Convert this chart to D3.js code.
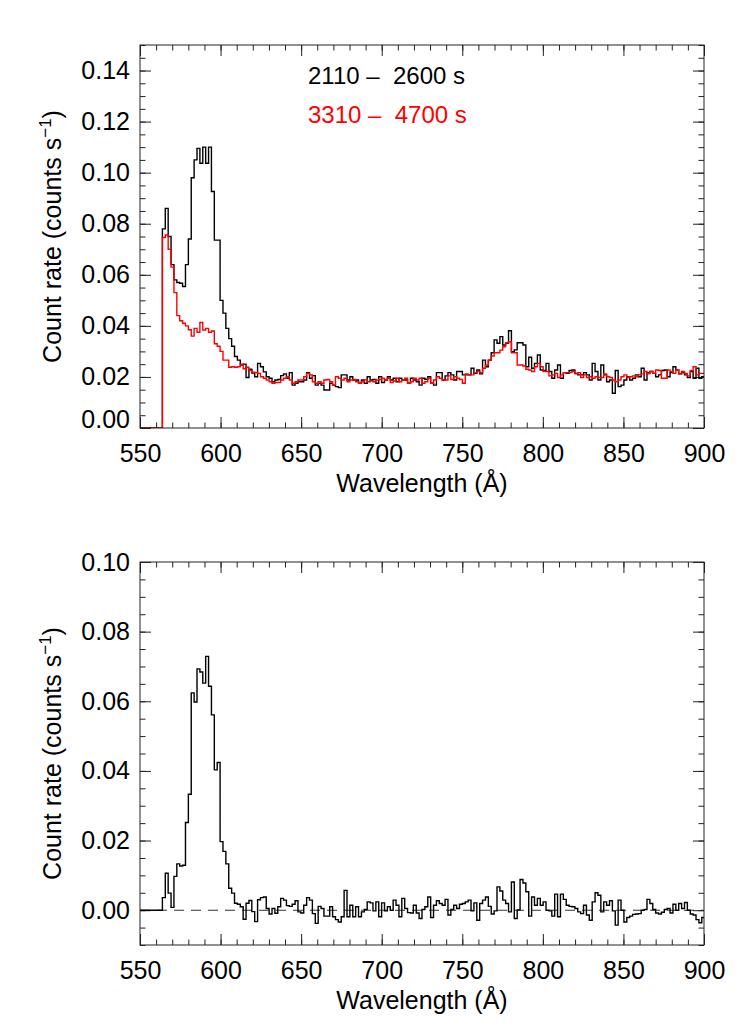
<!DOCTYPE html>
<html>
<head>
<meta charset="utf-8">
<script src="https://cdn.jsdelivr.net/npm/d3@7"></script>
<style>
  body { margin: 0; background: #fff; }
  svg { font-family: "Liberation Sans", Arial, Helvetica, sans-serif; }
</style>
</head>
<body>
<svg id="chart" width="747" height="1035"></svg>
<script>
// wavelength grid of the binned spectra
const waveMin = 550;
const waveMax = 900;
const binStart = 563.9;
const binWidth = 1.79;

const xTicks = [550, 600, 650, 700, 750, 800, 850, 900];
const topYTicks = [0, 0.02, 0.04, 0.06, 0.08, 0.10, 0.12, 0.14];
const bottomYTicks = [0, 0.02, 0.04, 0.06, 0.08, 0.10];

const legendLabels = ["2110 \u2013  2600 s", "3310 \u2013  4700 s"];
const legendColors = ["#000000", "#ff0000"];

// count rate, 2110 - 2600 s
const earlyRate = [
  0.078, 0.086, 0.075, 0.064, 0.058, 0.057, 0.0567, 0.0554, 0.064, 0.074,
  0.098, 0.105, 0.1095, 0.1037, 0.110, 0.1037, 0.110, 0.0926, 0.0736, 0.0736,
  0.050, 0.045, 0.039, 0.035, 0.032, 0.028, 0.0266, 0.0247, 0.025, 0.0198,
  0.023,
  0.0215, 0.0201, 0.0253, 0.024, 0.022, 0.0201, 0.0195, 0.0181, 0.0188, 0.019,
  0.0205, 0.0212, 0.0195, 0.0217, 0.0168, 0.0175, 0.0181, 0.0181, 0.0188, 0.0217,
  0.0195, 0.0205, 0.0168, 0.0175, 0.0168, 0.0149, 0.0149, 0.0175, 0.0168, 0.0162,
  0.0158, 0.0208, 0.0208, 0.0188, 0.0201, 0.0188, 0.0188, 0.0175, 0.0188, 0.0175,
  0.0201, 0.0188, 0.019, 0.0175, 0.0201, 0.0178, 0.0188, 0.0201, 0.0188, 0.0195,
  0.0181, 0.0195, 0.0188, 0.0188, 0.0175, 0.0195, 0.0188, 0.0181, 0.0168, 0.0195,
  0.0191, 0.0201, 0.0175, 0.0168, 0.0217, 0.0217,
  0.0188, 0.0204, 0.0217, 0.0208, 0.0188, 0.0221, 0.0221, 0.0208, 0.0208, 0.0208,
  0.0234, 0.0214, 0.0227, 0.0212, 0.0266, 0.024, 0.0266, 0.0295, 0.0345, 0.0332,
  0.0358, 0.0325, 0.0332, 0.0381, 0.0299, 0.0306, 0.0334, 0.0334, 0.0325, 0.024,
  0.0277, 0.0234, 0.0253, 0.0286, 0.0227, 0.0225, 0.0253, 0.0221, 0.0195, 0.0227,
  0.0247, 0.0195, 0.0217, 0.0214, 0.0225, 0.0227, 0.0214, 0.0208, 0.0208, 0.0217,
  0.0208, 0.0188, 0.0253, 0.0221, 0.0188, 0.0247, 0.0208, 0.0181, 0.0188, 0.0136,
  0.0225, 0.0162, 0.0168, 0.0188, 0.0201, 0.0188, 0.0195, 0.0208, 0.0201, 0.0234,
  0.0188, 0.0217, 0.0221, 0.0214, 0.0201, 0.0208, 0.0225, 0.0227, 0.0201, 0.0217,
  0.024, 0.0227, 0.0212, 0.0217, 0.0208, 0.0198, 0.0221, 0.0195, 0.0234, 0.0195,
  0.0201
];

// count rate, 3310 - 4700 s
const lateRate = [
  0.0746, 0.0756, 0.070, 0.063, 0.053, 0.044, 0.042, 0.041, 0.040, 0.0385,
  0.036, 0.039, 0.0375, 0.0413, 0.0384, 0.039, 0.0375, 0.038, 0.033, 0.032,
  0.030, 0.0266, 0.0266, 0.0238, 0.024, 0.0238, 0.024, 0.025, 0.0232, 0.0238,
  0.0225,
  0.0219, 0.0217, 0.0214, 0.0201, 0.0195, 0.0188, 0.0181, 0.0175, 0.0178, 0.0178,
  0.0188, 0.0195, 0.0201, 0.0188, 0.0175, 0.0181, 0.0188, 0.0188, 0.0201, 0.0214,
  0.0208, 0.0181, 0.0175, 0.0181, 0.0175, 0.0188, 0.019, 0.0181, 0.0168, 0.0201,
  0.0195, 0.0188, 0.0195, 0.0181, 0.0188, 0.019, 0.0181, 0.0175, 0.0181, 0.0188,
  0.0181, 0.0184, 0.0181, 0.0188, 0.019, 0.0195, 0.0188, 0.0195, 0.0178, 0.0184,
  0.0195, 0.0181, 0.0188, 0.0195, 0.0175, 0.0181, 0.0195, 0.0188, 0.0195, 0.0175,
  0.0181, 0.0195, 0.0175, 0.0188, 0.0201, 0.0195,
  0.0188, 0.0188, 0.0204, 0.019, 0.0201, 0.0195, 0.019, 0.0175, 0.0212, 0.0208,
  0.0208, 0.0217, 0.0221, 0.0217, 0.0234, 0.0247, 0.0266, 0.0282, 0.0295, 0.0295,
  0.0305, 0.0318, 0.0334, 0.0338, 0.0295, 0.0295, 0.0247, 0.0247, 0.0243, 0.023,
  0.0227, 0.0221, 0.024, 0.0253, 0.024, 0.0221, 0.0221, 0.0204, 0.0208, 0.0214,
  0.0198, 0.0208, 0.0217, 0.0217, 0.0217, 0.0221, 0.0212, 0.0217, 0.0198, 0.0208,
  0.0198, 0.0201, 0.0195, 0.0201, 0.0198, 0.0198, 0.0212, 0.0201, 0.0198, 0.0188,
  0.0181, 0.0188, 0.0201, 0.0208, 0.0198, 0.0201, 0.0204, 0.0201, 0.0208, 0.0212,
  0.0221, 0.0212, 0.0221, 0.0214, 0.0227, 0.0225, 0.0195, 0.0195, 0.0227, 0.0221,
  0.0214, 0.0227, 0.0212, 0.0221, 0.0214, 0.0204, 0.0225, 0.024, 0.0208, 0.0214,
  0.0214
];

// difference spectrum (lower panel)
const diffRate = [
  0.0036, 0.0106, 0.0049, 0.0008, 0.0097, 0.0133, 0.0127, 0.0129, 0.0252, 0.0333,
  0.0624, 0.0598, 0.0693, 0.0684, 0.0652, 0.0729, 0.0643, 0.0561, 0.0403, 0.0424,
  0.0197, 0.0169, 0.0133, 0.0063, 0.0049, 0.0020, 0.0017, 0.0010, -0.0026, 0.0020,
  0.0028, -0.0004, -0.0033, 0.0030,
  0.0036, 0.0038, 0.0005, -0.0011, 0.0005, -0.0009, 0.0010, 0.0034, 0.0029, 0.0013,
  0.0011, 0.0017, 0.0027, -0.0005, -0.0008, 0.0014, 0.0036, 0.0029, -0.0010, -0.0038,
  0.0011, 0.0005,
  -0.0017, -0.0017, 0.0010, -0.0019, -0.0027, -0.0034, -0.0019, 0.0057, -0.0019, 0.0014,
  -0.0019, 0.0010, -0.0019, -0.0005, 0.0002, 0.0024, 0.0021, -0.0002, 0.0024, -0.0019,
  0.0021, -0.0002, 0.0010, 0.0000, 0.0029, 0.0014, -0.0019, 0.0034, 0.0005, -0.0007,
  -0.0008, 0.0014, -0.0008, -0.0024, 0.0002, 0.0010, 0.0038, -0.0021, 0.0014, 0.0027,
  0.0019, 0.0014, 0.0031, -0.0014, 0.0002, 0.0014, 0.0005, 0.0017, 0.0019, 0.0024,
  0.0029, -0.0002, 0.0021, -0.0029, 0.0019, 0.0029, 0.0038, 0.0011, -0.0011, -0.0002,
  0.0067, 0.0055, 0.0029, 0.0019, -0.0005, 0.0081, -0.0024, 0.0001, 0.0088,
  0.0078, 0.0053, -0.0017, 0.0038, 0.0014, 0.0034, 0.0014, 0.0024, 0.0000, -0.0002,
  -0.0017, 0.0046, -0.0019, 0.0046, 0.0031, 0.0014, 0.0011, 0.0010, 0.0005, -0.0005,
  -0.0010, 0.0014, -0.0014, -0.0029, 0.0024, 0.0050, 0.0043, -0.0005, 0.0024, 0.0014,
  0.0027, -0.0002, -0.0043, 0.0029, 0.0000, -0.0034, -0.0021, -0.0017, -0.0012, -0.0011,
  -0.0010, 0.0000, 0.0002, 0.0031, 0.0019, 0.0002, -0.0008, -0.0011, -0.0006, 0.0002,
  0.0005, -0.0008, 0.0017, 0.0000, 0.0019, 0.0005, 0.0022, 0.0000, -0.0011, -0.0014,
  -0.0027, -0.0036, -0.0021
];

let svg = d3.select("#chart");
let left = 140, right = 704;
let axisColor = "#222";
let fontSize = 25;

//turns binned values into step points, starting at zero from the left edge
function toSteps(values) {
  let pts = [[waveMin, 0]];
  for (let i = 0; i < values.length; i++) {
    pts.push([binStart + i * binWidth, values[i]]);
  }
  pts.push([binStart + values.length * binWidth, values[values.length - 1]]);
  return pts;
}

function styleAxis(g) {
  g.select(".domain").remove();
  g.selectAll("line").attr("stroke", axisColor).attr("stroke-width", 1);
  g.selectAll("text").attr("fill", "#000").attr("font-size", fontSize)
    .attr("font-family", "Liberation Sans, Arial, sans-serif");
}

function drawPanel(id, top, bottom, yDomain, yTicks, minorStep, series, zeroLine, liftZeroLabel) {
  let x = d3.scaleLinear().domain([waveMin, waveMax]).range([left, right]);
  let y = d3.scaleLinear().domain(yDomain).range([bottom, top]);

  let xMinor = d3.range(waveMin, waveMax + 1, 10);
  let nMinor = Math.round((yDomain[1] - yDomain[0]) / minorStep);
  let yMinor = d3.range(0, nMinor + 1).map(function(i) { return yDomain[0] + i * minorStep; });

  let g = svg.append("g").attr("id", id);

  g.append("clipPath").attr("id", id + "_clip")
    .append("rect")
    .attr("x", left).attr("y", top)
    .attr("width", right - left).attr("height", bottom - top);

  // minor ticks on all four sides
  g.append("g").attr("transform", "translate(0," + bottom + ")")
    .call(d3.axisBottom(x).tickValues(xMinor).tickSize(-5.5).tickFormat(""))
    .call(styleAxis);
  g.append("g").attr("transform", "translate(0," + top + ")")
    .call(d3.axisTop(x).tickValues(xMinor).tickSize(-5.5).tickFormat(""))
    .call(styleAxis);
  g.append("g").attr("transform", "translate(" + left + ",0)")
    .call(d3.axisLeft(y).tickValues(yMinor).tickSize(-5.5).tickFormat(""))
    .call(styleAxis);
  g.append("g").attr("transform", "translate(" + right + ",0)")
    .call(d3.axisRight(y).tickValues(yMinor).tickSize(-5.5).tickFormat(""))
    .call(styleAxis);

  // major ticks with labels
  g.append("g").attr("transform", "translate(0," + bottom + ")")
    .call(d3.axisBottom(x).tickValues(xTicks).tickSize(-11).tickPadding(16).tickFormat(d3.format("d")))
    .call(styleAxis);
  g.append("g").attr("transform", "translate(0," + top + ")")
    .call(d3.axisTop(x).tickValues(xTicks).tickSize(-11).tickFormat(""))
    .call(styleAxis);
  let yAxisG = g.append("g").attr("transform", "translate(" + left + ",0)")
    .call(d3.axisLeft(y).tickValues(yTicks).tickSize(-11).tickPadding(10).tickFormat(d3.format(".2f")))
    .call(styleAxis);
  g.append("g").attr("transform", "translate(" + right + ",0)")
    .call(d3.axisRight(y).tickValues(yTicks).tickSize(-11).tickFormat(""))
    .call(styleAxis);

  if (liftZeroLabel) {
    yAxisG.selectAll(".tick").filter(function(d) { return d === 0; })
      .select("text").attr("y", -9);
  }

  if (zeroLine) {
    g.append("line")
      .attr("x1", x(waveMin)).attr("x2", x(waveMax))
      .attr("y1", y(0)).attr("y2", y(0))
      .attr("stroke", "#333")
      .attr("stroke-width", 1.1)
      .attr("stroke-dasharray", "10,7");
  }

  let line = d3.line()
    .x(function(d) { return x(d[0]); })
    .y(function(d) { return y(d[1]); })
    .curve(d3.curveStepAfter);

  series.forEach(function(s) {
    g.append("path")
      .datum(toSteps(s.values))
      .attr("clip-path", "url(#" + id + "_clip)")
      .attr("fill", "none")
      .attr("stroke", s.color)
      .attr("stroke-width", 1.4)
      .attr("d", line);
  });

  // frame
  g.append("rect")
    .attr("x", left).attr("y", top)
    .attr("width", right - left).attr("height", bottom - top)
    .attr("fill", "none")
    .attr("stroke", axisColor)
    .attr("stroke-width", 1);

  // axis titles
  g.append("text")
    .attr("x", (left + right) / 2)
    .attr("y", bottom + 64)
    .attr("text-anchor", "middle")
    .attr("font-size", fontSize)
    .text("Wavelength (\u00c5)");

  let yTitle = g.append("text")
    .attr("transform", "translate(61," + ((top + bottom) / 2) + ") rotate(-90)")
    .attr("text-anchor", "middle")
    .attr("font-size", fontSize);
  yTitle.append("tspan").text("Count rate (counts s");
  yTitle.append("tspan").attr("dy", -10).attr("font-size", 17).text("\u22121");
  yTitle.append("tspan").attr("dy", 10).text(")");

  return {x: x, y: y, g: g};
}

let topPanel = drawPanel("top_panel", 45, 428, [0, 0.15], topYTicks, 0.005,
  [{values: earlyRate, color: legendColors[0]}, {values: lateRate, color: legendColors[1]}],
  false, true);

drawPanel("bottom_panel", 562, 945, [-0.01, 0.10], bottomYTicks, 0.005,
  [{values: diffRate, color: "#000000"}],
  true, false);

// time interval labels
topPanel.g.selectAll(".legend")
  .data(legendLabels)
  .enter()
  .append("text")
  .attr("class", "legend")
  .attr("x", 308)
  .attr("y", function(d, i) { return 84 + i * 39; })
  .attr("font-size", 24)
  .attr("fill", function(d, i) { return legendColors[i]; })
  .style("white-space", "pre")
  .text(function(d) { return d; });
</script>
</body>
</html>
